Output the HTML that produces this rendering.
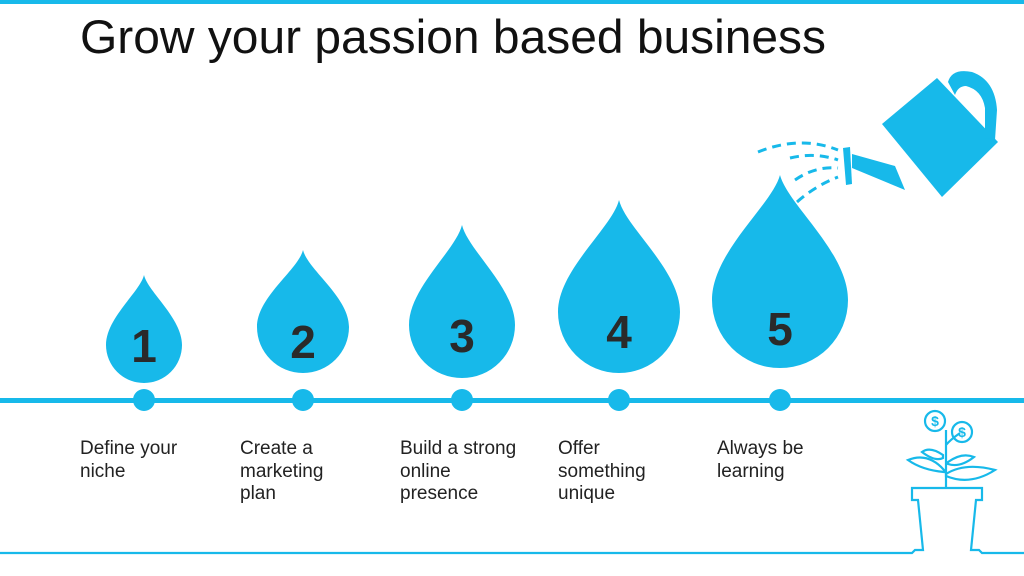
<!DOCTYPE html>
<html><head><meta charset="utf-8"><style>
html,body{margin:0;padding:0;width:1024px;height:576px;overflow:hidden;background:#fff;font-family:"Liberation Sans",sans-serif;}
.t{position:absolute;font-size:19px;line-height:22.5px;color:#222;}
</style></head><body>
<svg width="1024" height="576" style="position:absolute;left:0;top:0">
<rect x="0" y="0" width="1024" height="4" fill="#17b9ea"/>
<text x="80" y="53" font-family="Liberation Sans, sans-serif" font-size="47" fill="#111" textLength="746" lengthAdjust="spacingAndGlyphs">Grow your passion based business</text>
<rect x="0" y="398" width="1024" height="5" fill="#17b9ea"/>
<g fill="#17b9ea">
<circle cx="144" cy="400" r="11"/><circle cx="303" cy="400" r="11"/><circle cx="462" cy="400" r="11"/><circle cx="619" cy="400" r="11"/><circle cx="780" cy="400" r="11"/>
<path d="M144,275 C148,292 182,318 182,345 A38,38 0 1 1 106,345 C106,318 140,292 144,275Z"/>
<path d="M303,250 C308,270 349,297 349,327 A46,46 0 1 1 257,327 C257,297 298,270 303,250Z"/>
<path d="M462,225 C468,250 515,288 515,325 A53,53 0 1 1 409,325 C409,288 456,250 462,225Z"/>
<path d="M619,200 C626,228 680,270 680,312 A61,61 0 1 1 558,312 C558,270 612,228 619,200Z"/>
<path d="M780,175 C788,205 848,252 848,300 A68,68 0 1 1 712,300 C712,252 772,205 780,175Z"/>
</g>
<g font-family="Liberation Sans, sans-serif" font-weight="bold" font-size="46" fill="#2a2a2a" text-anchor="middle">
<text x="144" y="362">1</text><text x="303" y="358">2</text><text x="462" y="352">3</text><text x="619" y="348">4</text><text x="780" y="345">5</text>
</g>
<g fill="#17b9ea">
<path d="M882,124 L937,78 L998,142 L942,197 Z" />
<path d="M948,82 Q952,68 972,72 Q995,80 997,110 L995,140 L985,138 L985,108 Q982,90 966,86 Q958,86 955,95Z"/>
<path d="M895,166 L852,154 L852,168 L905,190Z"/>
<path d="M843,148 L850,147 L852,184 L846,185 Z"/>
</g>
<g fill="none" stroke="#17b9ea" stroke-width="3" stroke-dasharray="9,6">
<path d="M758,152 Q800,135 838,150"/>
<path d="M790,158 Q815,152 838,160"/>
<path d="M795,180 Q815,166 838,168"/>
<path d="M797,202 Q815,186 838,177"/>
</g>
<g fill="none" stroke="#17b9ea" stroke-width="2.2">
<path d="M0,553 L912,553 L915,550 L923,550 L918,500 L912,500 L912,488 L982,488 L982,500 L976,500 L971,550 L979,550 L982,553 L1024,553"/>
<path d="M946,488 L946,430 M946,445 Q950,440 960,433"/>
<circle cx="935" cy="421" r="10"/><circle cx="962" cy="432" r="10"/>
<path d="M944,472 Q922,470 908,460 Q928,452 944,470Z"/>
<path d="M946,474 Q965,462 995,470 Q970,486 946,476Z"/>
<path d="M943,455 Q930,446 922,452 Q935,462 943,458Z"/>
<path d="M948,462 Q962,452 974,457 Q960,468 948,464Z"/>
</g>
<g font-family="Liberation Sans, sans-serif" font-weight="bold" font-size="14" fill="#17b9ea" text-anchor="middle">
<text x="935" y="426">$</text><text x="962" y="437">$</text>
</g>
</svg>
<div class="t" style="left:80px;top:438px">Define your<br>niche</div>
<div class="t" style="left:240px;top:438px">Create a<br>marketing<br>plan</div>
<div class="t" style="left:400px;top:438px">Build a strong<br>online<br>presence</div>
<div class="t" style="left:558px;top:438px">Offer<br>something<br>unique</div>
<div class="t" style="left:717px;top:438px">Always be<br>learning</div>
</body></html>
